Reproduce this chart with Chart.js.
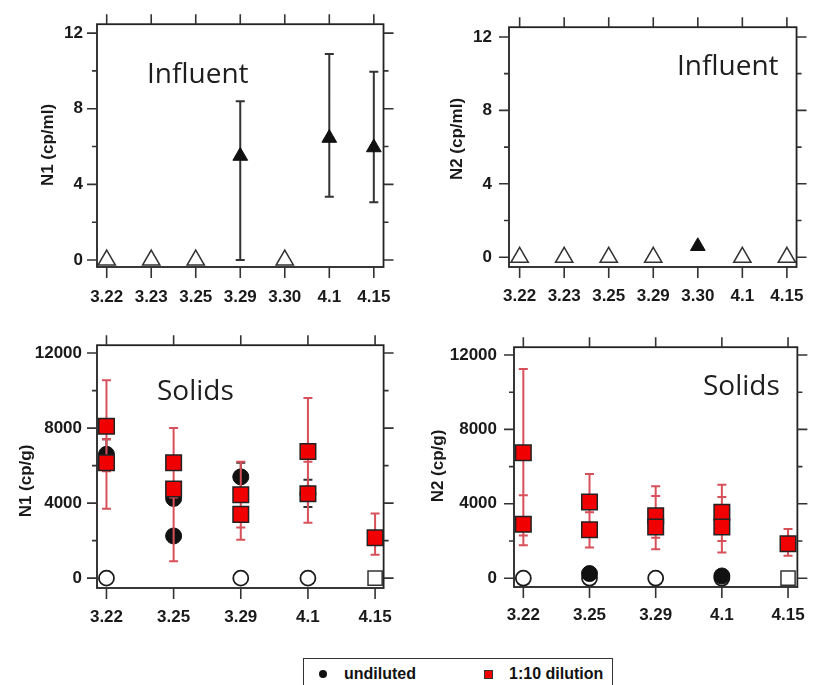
<!DOCTYPE html>
<html>
<head>
<meta charset="utf-8">
<script src="https://cdn.jsdelivr.net/npm/chart.js@4.4.1/dist/chart.umd.min.js"></script>
<style>
  html, body { margin: 0; padding: 0; background: #fff; }
  body { width: 823px; height: 685px; position: relative; overflow: hidden; }
  canvas { position: absolute; }
  #legend { position: absolute; left: 303px; top: 658px; width: 308px; height: 40px;
    border: 1.5px solid #333; font: bold 16px "Liberation Sans", Arial, sans-serif; color: #111; }
  #legend span { position: absolute; }
  .dot { width: 8px; height: 8px; border-radius: 50%; background: #111; left: 15px; top: 11px; }
  .sq { width: 7px; height: 7px; background: #f00000; border: 1px solid #333; left: 180px; top: 11px; }
  .lab { top: 5px; line-height: 20px; }
</style>
</head>
<body>
<canvas id="c1" width="411" height="320" style="left:0;top:0"></canvas>
<canvas id="c2" width="412" height="320" style="left:411px;top:0"></canvas>
<canvas id="c3" width="411" height="330" style="left:0;top:320px"></canvas>
<canvas id="c4" width="412" height="330" style="left:411px;top:320px"></canvas>
<div id="legend">
  <span class="dot"></span><span class="lab" style="left:40px">undiluted</span>
  <span class="sq"></span><span class="lab" style="left:205px">1:10 dilution</span>
</div>
<script>
// ---- data ----
const influentDates = ['3.22', '3.23', '3.25', '3.29', '3.30', '4.1', '4.15'];
const solidsDates = ['3.22', '3.25', '3.29', '4.1', '4.15'];

const influentTicks = [0, 4, 8, 12];
const influentMinor = [2, 6, 10];
const solidsTicks = [0, 4000, 8000, 12000];
const solidsMinor = [2000, 6000, 10000];

// N1 influent (cp/ml)
const n1InfNd = [0, 0, 0, null, 0, null, null];
const n1Inf = [null, null, null, 5.5, null, 6.45, 5.95];
const n1InfLo = [null, null, null, 0, null, 3.35, 3.05];
const n1InfHi = [null, null, null, 8.4, null, 10.9, 9.95];

// N2 influent (cp/ml)
const n2InfNd = [0, 0, 0, 0, null, 0, 0];
const n2Inf = [null, null, null, null, 0.6, null, null];

// N1 solids (cp/g)
const n1Und1 = [6600, 4250, 5400, 4500, null];
const n1Und1Lo = [5800, 3900, 4650, 3800, null];
const n1Und1Hi = [7400, 4600, 6150, 5250, null];
const n1Und2 = [null, 2250, null, null, null];
const n1UndNd = [0, null, 0, 0, null];
const n1Dil1 = [8100, 6150, 4450, 6750, 2150];
const n1Dil1Lo = [5700, 4300, 2700, 4600, 1250];
const n1Dil1Hi = [10550, 8000, 6200, 9600, 3450];
const n1Dil2 = [6150, 4750, 3400, 4500, null];
const n1Dil2Lo = [3700, 900, 2050, 2950, null];
const n1Dil2Hi = [7400, 6100, 4750, 6200, null];
const n1DilNd = [null, null, null, null, 0];

// N2 solids (cp/g)
const n2Und = [null, 250, null, 120, null];
const n2UndNd = [0, 0, 0, 0, null];
const n2Dil1 = [6750, 4100, 3350, 3550, 1850];
const n2Dil1Lo = [2300, 2600, 2170, 2000, 1200];
const n2Dil1Hi = [11250, 5600, 4950, 5020, 2650];
const n2Dil2 = [2900, 2600, 2750, 2750, null];
const n2Dil2Lo = [1770, 1650, 1560, 1380, null];
const n2Dil2Hi = [4460, 3550, 4420, 4370, null];
const n2DilNd = [null, null, null, null, 0];

// ---- helpers ----
const FONT = { family: '"Liberation Sans", Arial, sans-serif', size: 17, weight: 'bold' };
const RED = '#f00000', ERR_RED = '#d8505a';

function points(vals, lo, hi){
  const out = [];
  vals.forEach((v, i) => {
    if(v === null) return;
    out.push({ x: i, y: v, lo: lo ? lo[i] : null, hi: hi ? hi[i] : null });
  });
  return out;
}

const errorBars = {
  id: 'errorBars',
  beforeDatasetDraw(chart, args){
    const ds = chart.data.datasets[args.index];
    if(!ds.errorColor) return;
    const y = chart.scales.y, ctx = chart.ctx, cap = 4.5;
    ctx.save();
    ctx.strokeStyle = ds.errorColor; ctx.lineWidth = 2;
    ctx.beginPath();
    args.meta.data.forEach((pt, i) => {
      const raw = ds.data[i];
      if(raw.lo === null || raw.lo === undefined) return;
      const yl = y.getPixelForValue(raw.lo), yh = y.getPixelForValue(raw.hi);
      ctx.moveTo(pt.x, yl); ctx.lineTo(pt.x, yh);
      ctx.moveTo(pt.x - cap, yl); ctx.lineTo(pt.x + cap, yl);
      ctx.moveTo(pt.x - cap, yh); ctx.lineTo(pt.x + cap, yh);
    });
    ctx.stroke();
    ctx.restore();
  }
};

const frame = {
  id: 'frame',
  afterDraw(chart, args, opts){
    const { ctx, chartArea: a, scales: { x, y } } = chart;
    ctx.save();
    ctx.strokeStyle = '#222'; ctx.lineWidth = 1.8;
    ctx.strokeRect(a.left, a.top, a.right - a.left, a.bottom - a.top);
    ctx.strokeStyle = '#333'; ctx.lineWidth = 1.6;
    ctx.beginPath();
    x.ticks.forEach(t => {
      const px = x.getPixelForValue(t.value);
      ctx.moveTo(px, a.top - 10); ctx.lineTo(px, a.top);
      ctx.moveTo(px, a.bottom); ctx.lineTo(px, a.bottom + 11);
    });
    y.ticks.forEach(t => {
      const py = y.getPixelForValue(t.value);
      ctx.moveTo(a.left - 10, py); ctx.lineTo(a.left, py);
      ctx.moveTo(a.right, py); ctx.lineTo(a.right + 10, py);
    });
    (opts.minor || []).forEach(v => {
      const py = y.getPixelForValue(v);
      ctx.moveTo(a.left - 5, py); ctx.lineTo(a.left, py);
      ctx.moveTo(a.right, py); ctx.lineTo(a.right + 5, py);
    });
    ctx.stroke();

    // axis title (rotated)
    ctx.fillStyle = '#1a1a1a';
    ctx.font = 'bold 17px "Liberation Sans", Arial, sans-serif';
    ctx.textAlign = 'center'; ctx.textBaseline = 'middle';
    ctx.translate(opts.titleX, opts.titleY);
    ctx.rotate(-Math.PI / 2);
    ctx.fillText(opts.title, 0, 0);
    ctx.setTransform(1, 0, 0, 1, 0, 0);

    // panel label
    ctx.fillStyle = '#1e1e1e';
    ctx.font = '28px "Open Sans", sans-serif';
    ctx.textAlign = 'left'; ctx.textBaseline = 'alphabetic';
    ctx.fillText(opts.label, opts.labelX, opts.labelY);
    ctx.restore();
  }
};

function makePanel(id, p){
  const canvas = document.getElementById(id);
  return new Chart(canvas, {
    type: 'scatter',
    data: { datasets: p.datasets },
    options: {
      responsive: false, animation: false, events: [],
      layout: { padding: { left: 0, top: p.top, right: p.right, bottom: 0 } },
      plugins: { legend: { display: false }, tooltip: { enabled: false }, frame: p.frame },
      scales: {
        x: {
          type: 'linear', min: p.xMin, max: p.xMax,
          afterBuildTicks: s => { s.ticks = p.dates.map((d, i) => ({ value: i })); },
          afterFit: s => { s.height = p.xHeight; },
          ticks: { callback: v => p.dates[v], padding: p.xPad, font: FONT, color: '#1a1a1a', autoSkip: false, maxRotation: 0 },
          grid: { display: false, drawTicks: false }, border: { display: false }
        },
        y: {
          type: 'linear', min: p.yMin, max: p.yMax,
          afterBuildTicks: s => { s.ticks = p.yTicks.map(v => ({ value: v })); },
          afterFit: s => { s.width = p.yWidth; },
          ticks: { callback: v => String(v), padding: p.yPad, font: FONT, color: '#1a1a1a' },
          grid: { display: false, drawTicks: false }, border: { display: false }
        }
      }
    },
    plugins: [errorBars, frame]
  });
}

const openTri = { pointStyle: 'triangle', pointRadius: 10, backgroundColor: '#fff', borderColor: '#333', borderWidth: 1.5 };
const fillTri = { pointStyle: 'triangle', pointRadius: 8.5, backgroundColor: '#111', borderColor: '#111', borderWidth: 1 };
const openCirc = { pointStyle: 'circle', pointRadius: 7.5, backgroundColor: '#fff', borderColor: '#1a1a1a', borderWidth: 1.8 };
const fillCirc = { pointStyle: 'circle', pointRadius: 8, backgroundColor: '#111', borderColor: '#111', borderWidth: 1 };
const redSq = { pointStyle: 'rect', pointRadius: 11, backgroundColor: RED, borderColor: '#222', borderWidth: 1.5 };
const openSq = { pointStyle: 'rect', pointRadius: 10, backgroundColor: '#fff', borderColor: '#333', borderWidth: 1.5 };

makePanel('c1', {
  dates: influentDates, xMin: -0.218, xMax: 6.218, yMin: -0.37, yMax: 12.47, yTicks: influentTicks,
  top: 22, right: 19, yWidth: 97, xHeight: 53, xPad: 20, yPad: 14,
  frame: { minor: influentMinor, title: 'N1 (cp/ml)', titleX: 48, titleY: 145, label: 'Influent', labelX: 147, labelY: 83 },
  datasets: [
    Object.assign({ label: 'N1 influent', data: points(n1Inf, n1InfLo, n1InfHi), errorColor: '#333', order: 1 }, fillTri),
    Object.assign({ label: 'N1 influent nd', data: points(n1InfNd), order: 2 }, openTri)
  ]
});

makePanel('c2', {
  dates: influentDates, xMin: -0.239, xMax: 6.217, yMin: -0.53, yMax: 12.53, yTicks: influentTicks,
  top: 19, right: 17, yWidth: 98, xHeight: 53, xPad: 19, yPad: 17,
  frame: { minor: influentMinor, title: 'N2 (cp/ml)', titleX: 46, titleY: 139, label: 'Influent', labelX: 266, labelY: 75 },
  datasets: [
    Object.assign({ label: 'N2 influent', data: points(n2Inf), order: 1 }, fillTri),
    Object.assign({ label: 'N2 influent nd', data: points(n2InfNd), order: 2 }, openTri)
  ]
});

makePanel('c3', {
  dates: solidsDates, xMin: -0.141, xMax: 4.127, yMin: -524, yMax: 12419, yTicks: solidsTicks,
  top: 21, right: 12, yWidth: 97, xHeight: 62, xPad: 19, yPad: 15,
  frame: { minor: solidsMinor, title: 'N1 (cp/g)', titleX: 26, titleY: 161, label: 'Solids', labelX: 157, labelY: 80 },
  datasets: [
    Object.assign({ label: '1:10 dilution', data: points(n1Dil1, n1Dil1Lo, n1Dil1Hi).concat(points(n1Dil2, n1Dil2Lo, n1Dil2Hi)), errorColor: ERR_RED, order: 1 }, redSq),
    Object.assign({ label: 'dilution nd', data: points(n1DilNd), order: 2 }, openSq),
    Object.assign({ label: 'undiluted', data: points(n1Und1, n1Und1Lo, n1Und1Hi).concat(points(n1Und2)), errorColor: '#333', order: 3 }, fillCirc),
    Object.assign({ label: 'undiluted nd', data: points(n1UndNd), order: 4 }, openCirc)
  ]
});

makePanel('c4', {
  dates: solidsDates, xMin: -0.141, xMax: 4.141, yMin: -474, yMax: 12421, yTicks: solidsTicks,
  top: 22, right: 6, yWidth: 103, xHeight: 63, xPad: 18, yPad: 17,
  frame: { minor: solidsMinor, title: 'N2 (cp/g)', titleX: 27, titleY: 146, label: 'Solids', labelX: 292, labelY: 75 },
  datasets: [
    Object.assign({ label: '1:10 dilution', data: points(n2Dil1, n2Dil1Lo, n2Dil1Hi).concat(points(n2Dil2, n2Dil2Lo, n2Dil2Hi)), errorColor: ERR_RED, order: 1 }, redSq),
    Object.assign({ label: 'dilution nd', data: points(n2DilNd), order: 2 }, openSq),
    Object.assign({ label: 'undiluted', data: points(n2Und), order: 3 }, fillCirc),
    Object.assign({ label: 'undiluted nd', data: points(n2UndNd), order: 4 }, openCirc)
  ]
});
</script>
</body>
</html>
